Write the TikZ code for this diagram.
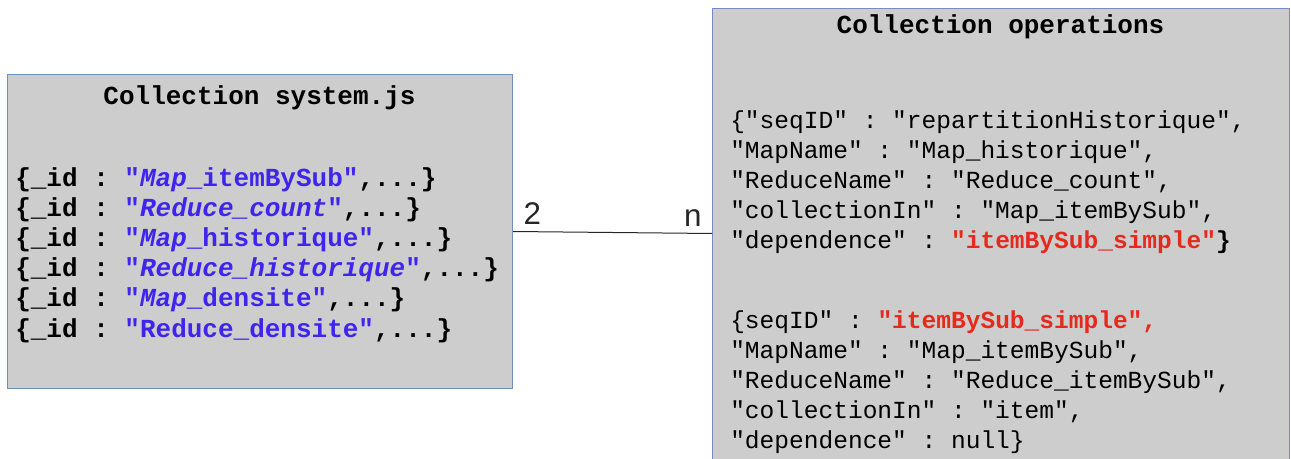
\documentclass[tikz,border=0pt]{standalone}
\usepackage{fontspec}
\setmainfont{Liberation Sans}
\setmonofont{Liberation Mono}
\usepackage{tikz}
\tikzset{>=latex}
\usetikzlibrary{positioning}
\definecolor{boxfill}{RGB}{205,205,205}
\definecolor{boxline}{RGB}{112,142,192}
\definecolor{keyblue}{RGB}{62,36,236}
\definecolor{keyred}{RGB}{228,42,28}
\newcommand{\bl}[1]{\textcolor{keyblue}{#1}}
\newcommand{\rd}[1]{\textcolor{keyred}{\bfseries #1}}

\begin{document}
\begin{tikzpicture}[
                x=0.75pt, y=-0.75pt,
                collbox/.style={draw=boxline, line width=0.75pt, fill=boxfill, inner sep=0pt},
                colltitle/.style={font=\ttfamily\bfseries\fontsize{19.5}{22.6}\selectfont, inner sep=0pt},
                sysbody/.style={font=\ttfamily\bfseries\fontsize{19.5}{22.65}\selectfont, align=left, inner sep=0pt},
                opsbody/.style={font=\ttfamily\fontsize{18.4}{22.5}\selectfont, align=left, inner sep=0pt},
                card/.style={font=\fontsize{23.5}{26}\selectfont, inner xsep=7.5pt, inner ysep=5pt}
            ]
            \useasboundingbox (0,0) rectangle (1291,459);
            \clip (0,0) rectangle (1291,459);
            \node[collbox, anchor=north west, minimum width=378.75pt, minimum height=235.5pt] (sysbox) at (7,74) {};
            \node[collbox, anchor=north west, minimum width=432.75pt, minimum height=346.5pt] (opsbox) at (712,8) {};
            \node[colltitle, anchor=base] (systitle) at (259.5,105) {Collection system.js};
            \node[colltitle, anchor=base] (opstitle) at (1000.5,34) {Collection operations};
            \node[sysbody, anchor=north west] (sysdocs) at (15,167) {%
                \{\_id : \bl{"\textit{Map}\_itemBySub"},...\}\\
                \{\_id : \bl{"\textit{Reduce\_count}"},...\}\\
                \{\_id : \bl{"\textit{Map}\_historique"},...\}\\
                \{\_id : \bl{"\textit{Reduce\_historique}"},...\}\\
                \{\_id : \bl{"\textit{Map}\_densite"},...\}\\
                \{\_id : \bl{"Reduce\_densite"},...\}};
            \node[opsbody, anchor=north west] (opsdocs) at (730,110) {%
                \{"seqID" : "repartitionHistorique",\\
                "MapName" : "Map\_historique",\\
                "ReduceName" : "Reduce\_count",\\
                "collectionIn" : "Map\_itemBySub",\\
                "dependence" : \rd{"itemBySub\_simple"}\textbf{\}}\\[37.5pt]
                \{seqID" : \rd{"itemBySub\_simple",}\\
                "MapName" : "Map\_itemBySub",\\
                "ReduceName" : "Reduce\_itemBySub",\\
                "collectionIn" : "item",\\
                "dependence" : null\}};
            \draw[black!85, line width=0.75pt] (sysbox.east) -- node[card, pos=0, above right] (card2) {2}
                node[card, pos=1, above left] (cardn) {n} ([yshift=-1.5pt]sysbox.east -| opsbox.west);
        \end{tikzpicture}
\end{document}
